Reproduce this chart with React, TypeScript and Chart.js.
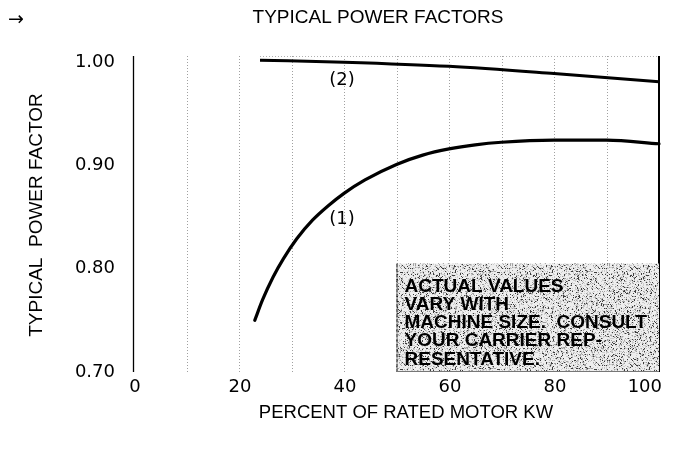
import { useEffect, useRef } from "react";
import { Chart, registerables } from "chart.js";

Chart.register(...registerables);

// ---- data ----
const curve1X = [23, 24.5, 26.5, 28.5, 31, 34, 37, 40, 44, 50, 55, 60, 65, 70, 80, 90, 100];
const curve1Y = [0.75, 0.77, 0.792, 0.81, 0.829, 0.847, 0.861, 0.873, 0.886, 0.901, 0.91, 0.916, 0.92, 0.9225, 0.9245, 0.9245, 0.921];
const curve2X = [24, 40, 60, 80, 100];
const curve2Y = [1.002, 1.0, 0.996, 0.989, 0.981];
const xTickValues = [0, 20, 40, 60, 80, 100];
const yTickValues = [0.7, 0.8, 0.9, 1.0];
const gridX = [10, 20, 30, 40, 50, 60, 70, 80, 90];
const curveLabels = ["(1)", "(2)"];
const curveLabelX = [39.6, 39.6];
const curveLabelY = [0.848, 0.982];
const noteBoxX = [50, 100];
const noteBoxY = [0.7, 0.805];
const noteLines = ["ACTUAL VALUES", "VARY WITH", "MACHINE SIZE.  CONSULT", "YOUR CARRIER REP-", "RESENTATIVE."];
const chartTitle = "TYPICAL POWER FACTORS";
const yTitle = "TYPICAL  POWER FACTOR";
const xTitle = "PERCENT OF RATED MOTOR KW";

function makePattern(ctx: CanvasRenderingContext2D) {
  const size = 97;
  const c = document.createElement("canvas");
  c.width = size;
  c.height = size;
  const g = c.getContext("2d")!;
  const img = g.createImageData(size, size);
  for (let j = 0; j < size; j++) {
    for (let i = 0; i < size; i++) {
      let h = (Math.imul(i, 374761393) + Math.imul(j, 668265263)) | 0;
      h = Math.imul(h ^ (h >>> 13), 1274126177);
      h = (h ^ (h >>> 16)) >>> 0;
      const r = h % 100;
      let v = 238;
      if (r < 9) v = 60;
      else if (r < 20) v = 160;
      else if (r < 38) v = 205;
      const k = (j * size + i) * 4;
      img.data[k] = v;
      img.data[k + 1] = v;
      img.data[k + 2] = v;
      img.data[k + 3] = 255;
    }
  }
  g.putImageData(img, 0, 0);
  return ctx.createPattern(c, "repeat")!;
}

const decor = {
  id: "decor",
  beforeDatasetsDraw(chart: any) {
    const { ctx, chartArea: a, scales } = chart;
    const x = scales.x;
    const y = scales.y;
    ctx.save();
    // dotted grid
    ctx.strokeStyle = "#a0a0a0";
    ctx.lineWidth = 1;
    ctx.setLineDash([1, 2]);
    gridX.forEach((v) => {
      const px = Math.round(x.getPixelForValue(v)) + 0.5;
      ctx.beginPath();
      ctx.moveTo(px, a.top);
      ctx.lineTo(px, a.bottom);
      ctx.stroke();
    });
    ctx.strokeStyle = "#b0b0b0";
    ctx.beginPath();
    ctx.moveTo(x.getPixelForValue(24), a.top + 0.5);
    ctx.lineTo(a.right, a.top + 0.5);
    ctx.stroke();
    ctx.setLineDash([]);
    // axis lines
    ctx.strokeStyle = "#000";
    ctx.lineWidth = 1.3;
    const lx = x.getPixelForValue(0) - 0.5;
    ctx.beginPath();
    ctx.moveTo(lx, a.top);
    ctx.lineTo(lx, a.bottom);
    ctx.stroke();
    ctx.lineWidth = 2;
    const rx = x.getPixelForValue(100);
    ctx.beginPath();
    ctx.moveTo(rx, a.top);
    ctx.lineTo(rx, a.bottom);
    ctx.stroke();

    // note box
    const bl = x.getPixelForValue(noteBoxX[0]);
    const br = x.getPixelForValue(noteBoxX[1]);
    const bt = y.getPixelForValue(noteBoxY[1]);
    const bb = y.getPixelForValue(noteBoxY[0]);
    ctx.fillStyle = makePattern(ctx);
    ctx.fillRect(bl, bt, br - bl, bb - bt);
    ctx.strokeStyle = "#000";
    ctx.lineWidth = 1;
    ctx.setLineDash([4, 1]);
    ctx.beginPath();
    ctx.moveTo(bl + 0.5, bt);
    ctx.lineTo(bl + 0.5, bb);
    ctx.stroke();
    ctx.setLineDash([]);
    ctx.strokeStyle = "#777";
    ctx.beginPath();
    ctx.moveTo(bl, bb - 0.5);
    ctx.lineTo(br, bb - 0.5);
    ctx.stroke();
    ctx.fillStyle = "#000";
    ctx.font = "bold 19px 'Liberation Sans', Arial, sans-serif";
    ctx.textAlign = "left";
    ctx.textBaseline = "alphabetic";
    noteLines.forEach((t, i) => {
      ctx.fillText(t, bl + 8, bt + 28 + i * 18.3);
    });
    ctx.restore();
  },
  afterDraw(chart: any) {
    const { ctx, scales, chartArea: a } = chart;
    const x = scales.x;
    const y = scales.y;
    ctx.save();
    ctx.fillStyle = "#000";
    // x tick labels
    ctx.font = "18px 'DejaVu Sans', sans-serif";
    ctx.textBaseline = "middle";
    xTickValues.forEach((v, i) => {
      const px = x.getPixelForValue(v);
      if (i === xTickValues.length - 1) {
        ctx.textAlign = "right";
        ctx.fillText(String(v), px + 3, a.bottom + 15);
      } else {
        ctx.textAlign = "center";
        ctx.fillText(String(v), px + 1, a.bottom + 15);
      }
    });
    // curve labels
    ctx.textAlign = "center";
    curveLabels.forEach((t, i) => {
      ctx.fillText(t, x.getPixelForValue(curveLabelX[i]), y.getPixelForValue(curveLabelY[i]));
    });
    // arrow + title
    ctx.font = "19px 'DejaVu Sans', sans-serif";
    ctx.textAlign = "left";
    ctx.fillText("\u2192", 8, 20);
    ctx.font = "19px 'Liberation Sans', Arial, sans-serif";
    ctx.textAlign = "center";
    ctx.textBaseline = "alphabetic";
    ctx.fillText(chartTitle, 378, 23);
    // x title
    ctx.font = "18.5px 'Liberation Sans', Arial, sans-serif";
    ctx.fillText(xTitle, 406, 418);
    // y title
    ctx.translate(42, 215);
    ctx.rotate(-Math.PI / 2);
    ctx.font = "19px 'Liberation Sans', Arial, sans-serif";
    ctx.fillText(yTitle, 0, 0);
    ctx.restore();
  },
};

export default function App() {
  const ref = useRef<HTMLCanvasElement | null>(null);
  useEffect(() => {
    const canvas = ref.current!;
    const chart = new Chart(canvas, {
      type: "line",
      data: {
        datasets: [
          {
            label: "(1)",
            data: curve1X.map((v, i) => ({ x: v, y: curve1Y[i] })),
            borderColor: "#000",
            borderWidth: 3.2,
            pointRadius: 0,
            cubicInterpolationMode: "monotone",
            borderCapStyle: "round",
            fill: false,
          },
          {
            label: "(2)",
            data: curve2X.map((v, i) => ({ x: v, y: curve2Y[i] })),
            borderColor: "#000",
            borderWidth: 3,
            pointRadius: 0,
            cubicInterpolationMode: "monotone",
            fill: false,
          },
        ],
      },
      options: {
        animation: false,
        responsive: false,
        maintainAspectRatio: false,
        clip: false,
        layout: { padding: { left: 0, right: 14, top: 56, bottom: 49 } },
        plugins: { legend: { display: false }, title: { display: false }, tooltip: { enabled: false } },
        scales: {
          x: {
            type: "linear",
            min: 0,
            max: 100,
            afterFit: (s: any) => {
              s.height = 30;
              s.paddingLeft = 0;
              s.paddingRight = 0;
            },
            afterBuildTicks: (s: any) => {
              s.ticks = xTickValues.map((v) => ({ value: v }));
            },
            grid: { display: false, drawTicks: false, tickLength: 0 },
            border: { display: false },
            ticks: { display: false },
          },
          y: {
            type: "linear",
            min: 0.7,
            max: 1.006,
            afterFit: (s: any) => {
              s.width = 134;
              s.paddingTop = 0;
              s.paddingBottom = 0;
            },
            afterBuildTicks: (s: any) => {
              s.ticks = yTickValues.map((v) => ({ value: v }));
            },
            grid: { display: false, drawTicks: false, tickLength: 0 },
            border: { display: false },
            ticks: {
              padding: 19,
              color: "#000",
              font: { family: "'DejaVu Sans', sans-serif", size: 18 },
              callback: (v: any) => Number(v).toFixed(2),
            },
          },
        },
      },
      plugins: [decor],
    } as any);
    return () => chart.destroy();
  }, []);
  return (
    <div style={{ position: "fixed", left: 0, top: 0, width: 673, height: 451, background: "#fff" }}>
      <canvas ref={ref} width={673} height={451} />
    </div>
  );
}
